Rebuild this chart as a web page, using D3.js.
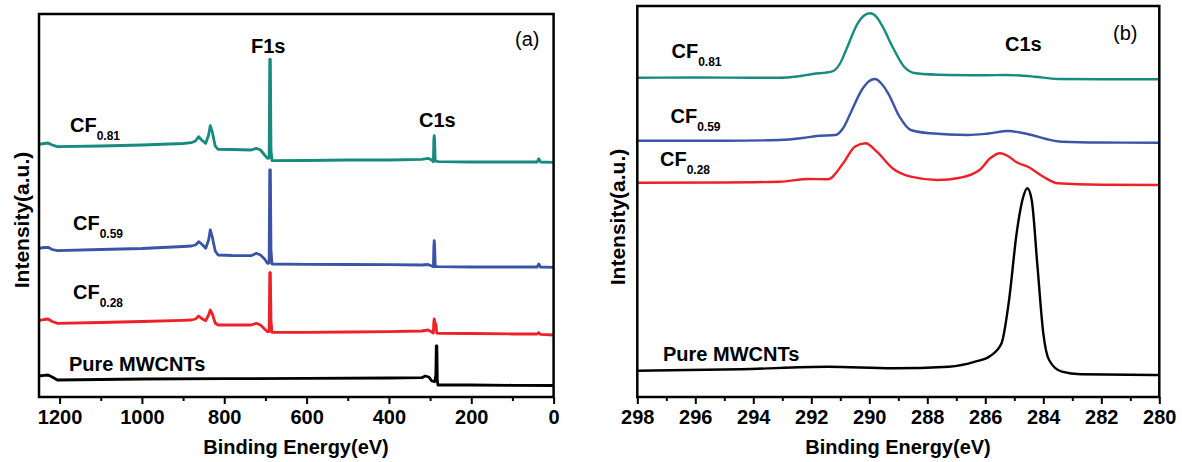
<!DOCTYPE html>
<html lang="en">
<head>
<meta charset="UTF-8">
<title>XPS spectra</title>
<script src="https://d3js.org/d3.v7.min.js"></script>
<style>
    body {
        margin: 0;
        background: #fff;
    }
    svg text {
        font-family: "Liberation Sans", Arial, sans-serif;
        fill: #000;
    }
    .lbl {
        font-weight: bold;
    }
</style>
</head>
<body>
<svg id="chart" width="1182" height="462"></svg>
<script>
    // ---- (a) survey spectra: [binding energy eV, intensity a.u.]
    var surveyCF081 = [[1250,252.7],[1238,253.5],[1228,254],[1218,252],[1205,250.3],[1100,251],[1000,252],[900,253.5],[880,254.3],[870,256],[862,260.3],[855,257],[845,253.7],[838,262],[834,271.3],[829,265],[822,251],[815,247.7],[780,247.5],[735,247],[722,248.7],[712,247],[702,242],[695,238.7],[691,239],[689.5,337.7],[688,337.7],[686.5,247],[684,236.3],[600,236.5],[500,237],[400,237],[320,237.7],[305,238.7],[296,237],[292,235.3],[291,257],[290,261.3],[289,257],[287.5,236],[280,235.3],[200,235],[100,235],[40,235],[36,238.3],[32,235],[0,234.7]];
    var surveyCF059 = [[1250,148.7],[1238,149.5],[1228,149.7],[1218,147.5],[1205,146.3],[1100,147.5],[1000,148.5],[900,150.5],[880,151],[870,152],[862,155.3],[855,153],[845,148.7],[838,157],[834,167],[829,160],[822,146],[815,142],[780,141.5],[735,141.3],[722,143.7],[712,142],[702,138],[695,133.7],[691,134],[689.5,227],[688,227],[686.5,147],[684,133],[600,132.7],[500,132.5],[400,132.3],[320,132],[305,132.5],[296,131],[292,130.3],[291,149],[290,156.3],[289,151],[287.5,130.5],[280,130.3],[200,130],[100,130],[40,130],[36,133],[32,130],[0,129.7]];
    var surveyCF028 = [[1250,76.3],[1238,77.5],[1228,78],[1218,75.5],[1205,73.7],[1100,74.5],[1000,75.5],[900,76.7],[880,77],[870,78],[862,81],[855,78.5],[845,76.3],[838,82],[834,87],[829,83],[822,74],[815,72],[780,72],[735,72],[722,73.7],[712,72],[702,68],[695,65.3],[691,65.5],[689.5,124.3],[688,124.3],[686.5,77],[684,64.7],[600,64.7],[500,65],[400,65.3],[320,66],[305,67],[296,65],[292,64],[291,75],[290,78],[288,74],[286,73],[285,70],[284,64],[280,63.7],[200,63.5],[100,63],[40,63],[36,64.3],[32,62.7],[0,62]];
    var surveyPure = [[1250,21],[1238,21.7],[1228,22],[1218,20],[1205,17],[1100,17.5],[1000,18],[800,18.3],[600,18.7],[400,19],[320,19.3],[312,21],[303,20],[296,16],[289,15.3],[286,22],[285,51],[283.5,51],[282.5,17],[281,12],[200,12],[100,11.7],[0,11.5]];

    // ---- (b) C1s high resolution spectra
    var c1sCF081 = [[298,319.3],[296,319.5],[294,319.3],[293.1,319.3],[292.5,320.5],[291.95,323],[291.3,325.3],[291.0,334],[290.8,347],[290.4,373.7],[290.2,381],[289.97,383.7],[289.75,380],[289.54,370.3],[289.2,350.3],[288.8,330.3],[288.4,323.7],[287.3,322],[286,321.7],[285.3,322],[284.8,321.5],[284.3,320.3],[283.5,318],[282,317.7],[280,317.7]];
    var c1sCF059 = [[298,256.3],[295,256.3],[293.1,257],[292.3,259],[291.82,261],[291.17,262],[290.9,269],[290.65,283.7],[290.26,307],[290.0,316],[289.8,318],[289.6,314],[289.35,303.7],[288.96,280.3],[288.57,267],[287.9,263.7],[286.6,262],[285.9,263.5],[285.2,266],[284.8,264.5],[284.4,262],[283.9,258],[283.36,255.3],[282,254.5],[280,254.3]];
    var c1sCF028 = [[298,214.3],[295,214.5],[293.1,215.3],[292.08,218],[291.43,217.7],[290.9,233.7],[290.5,250.3],[290.13,253.7],[289.74,245.3],[289.2,228.7],[288.57,220.3],[287.65,217],[286.87,219.3],[286.2,227],[285.83,238.7],[285.5,243.7],[285.18,240.3],[284.92,234.7],[284.53,230.3],[284.0,220.3],[283.5,213.7],[282,212.3],[280,212]];
    var c1sPure = [[298,26.3],[294.42,27.7],[291.43,30.3],[289.2,28.7],[287.26,30.3],[286.35,35.3],[285.83,41],[285.44,53.7],[285.18,97],[284.92,163.7],[284.72,197],[284.55,208.7],[284.4,197],[284.2,130.3],[284.0,63.7],[283.8,37],[283.36,25.3],[282.7,22.7],[280,22]];

    var ticksA = [1200, 1000, 800, 600, 400, 200, 0];
    var minorA = [1100, 900, 700, 500, 300, 100];
    var ticksB = [298, 296, 294, 292, 290, 288, 286, 284, 282, 280];
    var minorB = [297, 295, 293, 291, 289, 287, 285, 283, 281];

    var colTeal = "#188a80", colBlue = "#3b54a5", colRed = "#ee2128", colBlack = "#000";

    var svg = d3.select("#chart");

    var xA = d3.scaleLinear().domain([1250, 0]).range([39, 553.6]);
    var yA = d3.scaleLinear().domain([0, 383]).range([397, 14]);
    var xB = d3.scaleLinear().domain([298, 280]).range([637.3, 1159.3]);
    var yB = d3.scaleLinear().domain([0, 391]).range([397, 6]);

    function drawPanel(x, y, ticks, minor, series, curve, lw) {
        var x0 = x.range()[0], x1 = x.range()[1];
        var y0 = y.range()[0], y1 = y.range()[1];

        // minor ticks
        svg.append("g")
            .attr("transform", "translate(0," + y0 + ")")
            .call(d3.axisBottom(x).tickValues(minor).tickSize(4).tickFormat(""))
            .call(function (g) { g.select(".domain").remove(); })
            .selectAll("line").attr("stroke-width", 2);

        var ax = svg.append("g")
            .attr("transform", "translate(0," + y0 + ")")
            .call(d3.axisBottom(x).tickValues(ticks).tickSize(7).tickPadding(6).tickFormat(d3.format("d")));
        ax.select(".domain").remove();
        ax.selectAll("line").attr("stroke-width", 2);
        ax.selectAll("text")
            .attr("class", "lbl")
            .style("font-size", "20px")
            .style("font-family", "'Liberation Sans', Arial, sans-serif");

        var line = d3.line()
            .x(function (d) { return x(d[0]); })
            .y(function (d) { return y(d[1]); })
            .curve(curve);

        series.forEach(function (s) {
            svg.append("path")
                .datum(s.data)
                .attr("fill", "none")
                .attr("stroke", s.color)
                .attr("stroke-width", lw)
                .attr("stroke-linejoin", "round")
                .attr("d", line);
        });

        svg.append("rect")
            .attr("x", x0).attr("y", y1)
            .attr("width", x1 - x0).attr("height", y0 - y1)
            .attr("fill", "none")
            .attr("stroke", "#000")
            .attr("stroke-width", 2.5);
    }

    drawPanel(xA, yA, ticksA, minorA, [
        {data: surveyCF081, color: colTeal},
        {data: surveyCF059, color: colBlue},
        {data: surveyCF028, color: colRed},
        {data: surveyPure, color: colBlack}
    ], d3.curveLinear, 2.8);

    drawPanel(xB, yB, ticksB, minorB, [
        {data: c1sCF081, color: colTeal},
        {data: c1sCF059, color: colBlue},
        {data: c1sCF028, color: colRed},
        {data: c1sPure, color: colBlack}
    ], d3.curveMonotoneX, 2.4);

    function label(x, y, main, sub) {
        var t = svg.append("text")
            .attr("class", "lbl")
            .attr("x", x).attr("y", y)
            .style("font-size", "20px");
        t.append("tspan").text(main);
        if (sub) {
            t.append("tspan").attr("dy", 8).style("font-size", "12px").text(sub);
        }
    }

    // axis titles
    svg.append("text").attr("class", "lbl").attr("x", 296).attr("y", 454)
        .attr("text-anchor", "middle").style("font-size", "20px").text("Binding Energy(eV)");
    svg.append("text").attr("class", "lbl").attr("x", 898).attr("y", 454)
        .attr("text-anchor", "middle").style("font-size", "20px").text("Binding Energy(eV)");
    svg.append("text").attr("class", "lbl")
        .attr("transform", "translate(29,220) rotate(-90)")
        .attr("text-anchor", "middle").style("font-size", "21px").text("Intensity(a.u.)");
    svg.append("text").attr("class", "lbl")
        .attr("transform", "translate(625,217) rotate(-90)")
        .attr("text-anchor", "middle").style("font-size", "21px").text("Intensity(a.u.)");

    // panel (a) annotations
    label(251, 52.5, "F1s");
    label(419, 127, "C1s");
    label(70, 131.7, "CF", "0.81");
    label(73, 230, "CF", "0.59");
    label(73, 299.3, "CF", "0.28");
    label(69, 371, "Pure MWCNTs");
    svg.append("text").attr("x", 515).attr("y", 46).style("font-size", "20px").text("(a)");

    // panel (b) annotations
    label(1005, 51, "C1s");
    label(671.5, 58.3, "CF", "0.81");
    label(670.5, 122.7, "CF", "0.59");
    label(660, 166, "CF", "0.28");
    label(663, 360.7, "Pure MWCNTs");
    svg.append("text").attr("x", 1113).attr("y", 40).style("font-size", "20px").text("(b)");
</script>
</body>
</html>
